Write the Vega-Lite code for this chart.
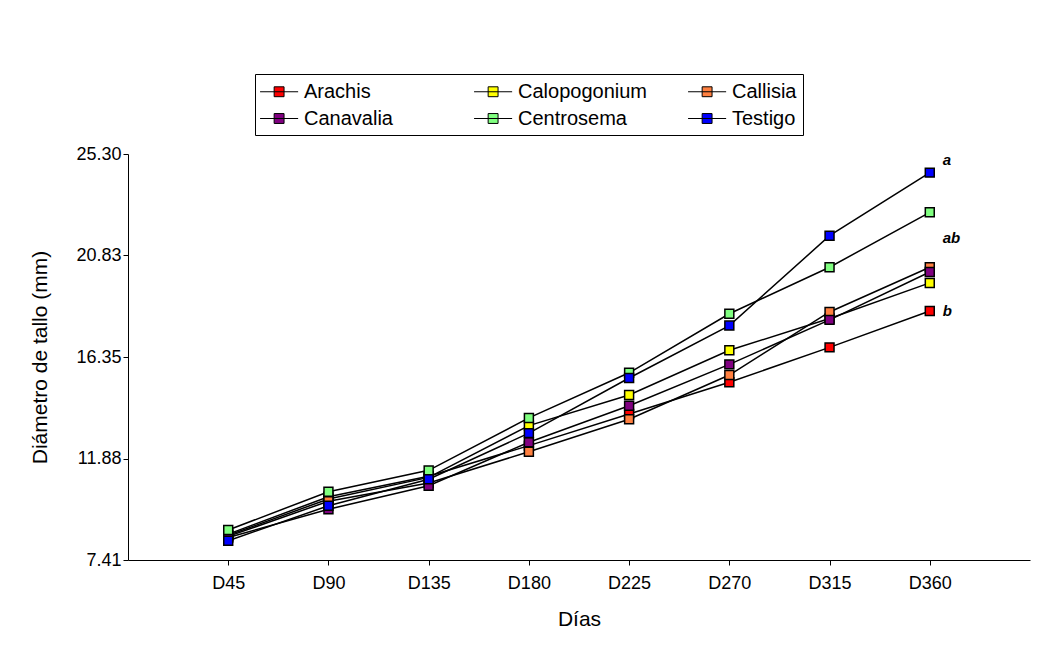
{
  "$schema": "https://vega.github.io/schema/vega-lite/v6.json",
  "width": 902,
  "height": 406,
  "autosize": {"type": "none"},
  "padding": {"left": 128, "top": 154, "right": 27, "bottom": 87},
  "background": "white",
  "config": {
    "font": "Liberation Sans",
    "view": {"stroke": null},
    "axis": {"labelFont": "Liberation Sans", "titleFont": "Liberation Sans", "labelColor": "black", "titleColor": "black", "domainColor": "black", "tickColor": "black", "grid": false, "labelFontSize": 18, "titleFontSize": 21, "titleFontWeight": "normal", "tickSize": 5, "domainWidth": 1, "tickWidth": 1}
  },
  "datasets": {
    "series": [
      {"dia": "D45", "tratamiento": "Arachis", "diametro": 8.55},
      {"dia": "D45", "tratamiento": "Calopogonium", "diametro": 8.5},
      {"dia": "D45", "tratamiento": "Callisia", "diametro": 8.45},
      {"dia": "D45", "tratamiento": "Canavalia", "diametro": 8.4},
      {"dia": "D45", "tratamiento": "Centrosema", "diametro": 8.73},
      {"dia": "D45", "tratamiento": "Testigo", "diametro": 8.26},
      {"dia": "D90", "tratamiento": "Arachis", "diametro": 10.2},
      {"dia": "D90", "tratamiento": "Calopogonium", "diametro": 10.1},
      {"dia": "D90", "tratamiento": "Callisia", "diametro": 10.0},
      {"dia": "D90", "tratamiento": "Canavalia", "diametro": 9.65},
      {"dia": "D90", "tratamiento": "Centrosema", "diametro": 10.42},
      {"dia": "D90", "tratamiento": "Testigo", "diametro": 9.8},
      {"dia": "D135", "tratamiento": "Arachis", "diametro": 11.1},
      {"dia": "D135", "tratamiento": "Calopogonium", "diametro": 11.05},
      {"dia": "D135", "tratamiento": "Callisia", "diametro": 10.8},
      {"dia": "D135", "tratamiento": "Canavalia", "diametro": 10.68},
      {"dia": "D135", "tratamiento": "Centrosema", "diametro": 11.36},
      {"dia": "D135", "tratamiento": "Testigo", "diametro": 10.97},
      {"dia": "D180", "tratamiento": "Arachis", "diametro": 12.45},
      {"dia": "D180", "tratamiento": "Calopogonium", "diametro": 13.33},
      {"dia": "D180", "tratamiento": "Callisia", "diametro": 12.18},
      {"dia": "D180", "tratamiento": "Canavalia", "diametro": 12.6},
      {"dia": "D180", "tratamiento": "Centrosema", "diametro": 13.67},
      {"dia": "D180", "tratamiento": "Testigo", "diametro": 13.0},
      {"dia": "D225", "tratamiento": "Arachis", "diametro": 13.84},
      {"dia": "D225", "tratamiento": "Calopogonium", "diametro": 14.68},
      {"dia": "D225", "tratamiento": "Callisia", "diametro": 13.61},
      {"dia": "D225", "tratamiento": "Canavalia", "diametro": 14.21},
      {"dia": "D225", "tratamiento": "Centrosema", "diametro": 15.66},
      {"dia": "D225", "tratamiento": "Testigo", "diametro": 15.43},
      {"dia": "D270", "tratamiento": "Arachis", "diametro": 15.24},
      {"dia": "D270", "tratamiento": "Calopogonium", "diametro": 16.65},
      {"dia": "D270", "tratamiento": "Callisia", "diametro": 15.56},
      {"dia": "D270", "tratamiento": "Canavalia", "diametro": 16.03},
      {"dia": "D270", "tratamiento": "Centrosema", "diametro": 18.26},
      {"dia": "D270", "tratamiento": "Testigo", "diametro": 17.74},
      {"dia": "D315", "tratamiento": "Arachis", "diametro": 16.78},
      {"dia": "D315", "tratamiento": "Calopogonium", "diametro": 18.05},
      {"dia": "D315", "tratamiento": "Callisia", "diametro": 18.34},
      {"dia": "D315", "tratamiento": "Canavalia", "diametro": 17.99},
      {"dia": "D315", "tratamiento": "Centrosema", "diametro": 20.31},
      {"dia": "D315", "tratamiento": "Testigo", "diametro": 21.7},
      {"dia": "D360", "tratamiento": "Arachis", "diametro": 18.38},
      {"dia": "D360", "tratamiento": "Calopogonium", "diametro": 19.62},
      {"dia": "D360", "tratamiento": "Callisia", "diametro": 20.31},
      {"dia": "D360", "tratamiento": "Canavalia", "diametro": 20.1},
      {"dia": "D360", "tratamiento": "Centrosema", "diametro": 22.73},
      {"dia": "D360", "tratamiento": "Testigo", "diametro": 24.48}
    ],
    "letras": [
      {"dia": "D360", "diametro": 25.04, "letra": "a"},
      {"dia": "D360", "diametro": 21.6, "letra": "ab"},
      {"dia": "D360", "diametro": 18.38, "letra": "b"}
    ]
  },
  "encoding": {
    "x": {"field": "dia", "type": "ordinal", "sort": ["D45", "D90", "D135", "D180", "D225", "D270", "D315", "D360"],
      "scale": {"type": "point", "padding": 1},
      "axis": {"title": "Días", "labelAngle": 0, "labelPadding": 9, "titlePadding": 16}},
    "y": {"field": "diametro", "type": "quantitative",
      "scale": {"domain": [7.41, 25.3], "nice": false, "zero": false},
      "axis": {"title": "Diámetro de tallo (mm)", "values": [7.41, 11.88, 16.35, 20.83, 25.3], "format": ".2f", "labelPadding": 2, "titlePadding": 25}}
  },
  "layer": [
    {
      "data": {"name": "series"},
      "mark": {"type": "line", "color": "black", "strokeWidth": 1.5},
      "encoding": {"detail": {"field": "tratamiento", "type": "nominal"}}
    },
    {
      "data": {"name": "series"},
      "mark": {"type": "point", "shape": "square", "filled": true, "size": 80, "stroke": "black", "strokeWidth": 1.5, "opacity": 1},
      "encoding": {
        "fill": {"field": "tratamiento", "type": "nominal",
          "scale": {"domain": ["Arachis", "Calopogonium", "Callisia", "Canavalia", "Centrosema", "Testigo"],
                    "range": ["#FF0000", "#FFFF00", "#FF8040", "#800080", "#80FF80", "#0000FF"]},
          "legend": {"title": null, "orient": "none", "legendX": 127, "legendY": -80, "columns": 3, "direction": "horizontal", "gridAlign": "all",
            "strokeColor": "black", "padding": 6, "columnPadding": 39, "rowPadding": 5,
            "symbolType": "M-1.13,0H2.33M0.15,-0.45H1.05V0.45H0.15Z", "symbolSize": 484, "symbolStrokeColor": "black", "symbolStrokeWidth": 1, "symbolOpacity": 1,
            "labelFont": "Liberation Sans", "labelFontSize": 20, "labelColor": "black", "labelOffset": 20}}
      }
    },
    {
      "data": {"name": "letras"},
      "mark": {"type": "text", "align": "left", "dx": 13, "font": "Liberation Sans", "fontSize": 15, "fontWeight": "bold", "fontStyle": "italic", "color": "black"},
      "encoding": {"text": {"field": "letra"}}
    }
  ]
}
